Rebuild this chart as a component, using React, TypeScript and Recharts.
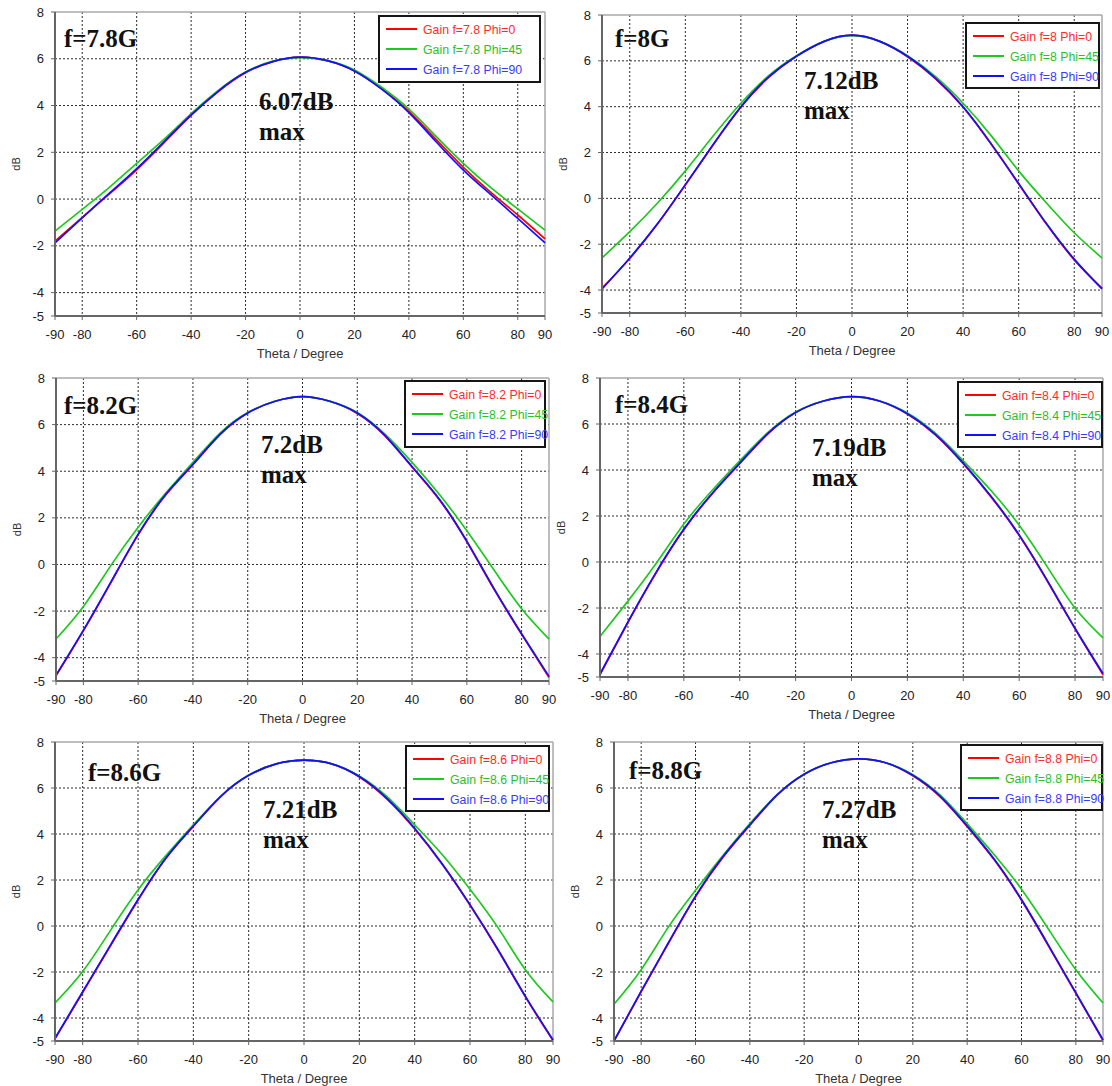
import { CartesianGrid, Line, LineChart, ReferenceLine, XAxis, YAxis } from 'recharts';

// theta sweep shared by every cut
const thetaDeg = [-90, -80, -70, -60, -50, -40, -30, -20, -10, 0, 10, 20, 30, 40, 50, 60, 70, 80, 90];

const xTicks = [-90, -80, -60, -40, -20, 0, 20, 40, 60, 80, 90];
const yTicks = [-5, -4, -2, 0, 2, 4, 6, 8];
const gridX = [-80, -60, -40, -20, 0, 20, 40, 60, 80];
const gridY = [-4, -2, 0, 2, 4, 6];

const freqGHz = ['7.8', '8', '8.2', '8.4', '8.6', '8.8'];
const freqTags = ['f=7.8G', 'f=8G', 'f=8.2G', 'f=8.4G', 'f=8.6G', 'f=8.8G'];
const peakGain = ['6.07dB', '7.12dB', '7.2dB', '7.19dB', '7.21dB', '7.27dB'];
const phiAngles = [0, 45, 90];

// gain (dB)
const gain78Phi0 = [-1.8, -0.78, 0.22, 1.25, 2.4, 3.58, 4.6, 5.4, 5.88, 6.07, 5.92, 5.48, 4.72, 3.75, 2.55, 1.36, 0.3, -0.68, -1.7];
const gain78Phi45 = [-1.37, -0.44, 0.5, 1.53, 2.55, 3.65, 4.65, 5.43, 5.9, 6.05, 5.92, 5.52, 4.78, 3.85, 2.68, 1.53, 0.5, -0.42, -1.33];
const gain78Phi90 = [-1.87, -0.8, 0.25, 1.3, 2.45, 3.6, 4.62, 5.42, 5.88, 6.07, 5.92, 5.48, 4.7, 3.7, 2.45, 1.24, 0.2, -0.83, -1.87];

const gain80Phi0 = [-3.92, -2.62, -1.12, 0.58, 2.33, 3.98, 5.28, 6.2, 6.85, 7.12, 6.85, 6.18, 5.23, 3.98, 2.38, 0.63, -1.12, -2.68, -3.92];
const gain80Phi45 = [-2.6, -1.45, -0.2, 1.2, 2.72, 4.15, 5.35, 6.22, 6.85, 7.1, 6.85, 6.22, 5.32, 4.15, 2.75, 1.2, -0.2, -1.5, -2.6];
const gain80Phi90 = [-3.95, -2.6, -1.1, 0.6, 2.35, 4.0, 5.3, 6.2, 6.85, 7.12, 6.85, 6.2, 5.25, 4.0, 2.4, 0.65, -1.1, -2.65, -3.95];

const gain82Phi0 = [-4.78, -2.85, -0.79, 1.27, 2.97, 4.28, 5.58, 6.5, 7.0, 7.2, 7.0, 6.48, 5.53, 4.18, 2.77, 0.97, -1.08, -3.0, -4.85];
const gain82Phi45 = [-3.2, -1.8, -0.05, 1.6, 3.05, 4.38, 5.65, 6.52, 7.0, 7.2, 7.0, 6.52, 5.6, 4.38, 3.0, 1.45, -0.25, -1.9, -3.2];
const gain82Phi90 = [-4.75, -2.82, -0.76, 1.3, 3.0, 4.3, 5.6, 6.5, 7.0, 7.2, 7.0, 6.5, 5.55, 4.2, 2.8, 1.0, -1.05, -2.97, -4.8];

const gain84Phi0 = [-4.9, -2.63, -0.49, 1.4, 2.94, 4.28, 5.56, 6.5, 7.0, 7.19, 7.0, 6.43, 5.53, 4.27, 2.82, 1.15, -0.82, -2.91, -4.9];
const gain84Phi45 = [-3.24, -1.7, -0.08, 1.65, 3.1, 4.4, 5.62, 6.52, 7.0, 7.18, 7.0, 6.48, 5.6, 4.4, 3.1, 1.6, -0.2, -2.0, -3.3];
const gain84Phi90 = [-4.87, -2.6, -0.46, 1.43, 2.97, 4.3, 5.58, 6.5, 7.0, 7.19, 7.0, 6.45, 5.55, 4.3, 2.85, 1.18, -0.79, -2.88, -4.85];

const gain86Phi0 = [-4.91, -2.89, -0.87, 1.12, 2.92, 4.33, 5.63, 6.55, 7.05, 7.21, 7.05, 6.48, 5.52, 4.22, 2.67, 0.9, -1.03, -3.08, -4.98];
const gain86Phi45 = [-3.35, -1.98, -0.2, 1.57, 3.05, 4.4, 5.65, 6.55, 7.05, 7.2, 7.05, 6.52, 5.62, 4.4, 3.1, 1.6, -0.05, -1.9, -3.3];
const gain86Phi90 = [-4.88, -2.86, -0.84, 1.15, 2.95, 4.35, 5.65, 6.55, 7.05, 7.21, 7.05, 6.5, 5.55, 4.25, 2.7, 0.93, -1.0, -3.05, -4.95];

const gain88Phi0 = [-5.0, -2.86, -0.76, 1.27, 2.97, 4.38, 5.68, 6.6, 7.1, 7.27, 7.1, 6.53, 5.62, 4.32, 2.87, 1.12, -0.88, -2.93, -4.98];
const gain88Phi45 = [-3.4, -1.9, -0.05, 1.55, 3.05, 4.45, 5.7, 6.6, 7.1, 7.26, 7.1, 6.58, 5.7, 4.45, 3.1, 1.6, -0.15, -1.9, -3.35];
const gain88Phi90 = [-5.0, -2.83, -0.73, 1.3, 3.0, 4.4, 5.7, 6.6, 7.1, 7.27, 7.1, 6.55, 5.65, 4.35, 2.9, 1.15, -0.85, -2.9, -4.95];

const panelGains = [
  [gain78Phi0, gain78Phi45, gain78Phi90],
  [gain80Phi0, gain80Phi45, gain80Phi90],
  [gain82Phi0, gain82Phi45, gain82Phi90],
  [gain84Phi0, gain84Phi45, gain84Phi90],
  [gain86Phi0, gain86Phi45, gain86Phi90],
  [gain88Phi0, gain88Phi45, gain88Phi90],
];

const lineColors = ['#ff0000', '#1ec81e', '#1010ff'];
const legendTextColors = ['#ff2a2a', '#2ac02a', '#3a3aff'];

// plot rectangles and overlay spots, page coordinates
const panelBoxes = [
  { left: 55, right: 545, top: 12, bottom: 316, tag: [64, 47], peak: [259, 110], legend: [379, 16, 161, 66] },
  { left: 602, right: 1102, top: 15, bottom: 313, tag: [615, 47], peak: [804, 89], legend: [966, 23, 133, 65] },
  { left: 56, right: 549, top: 378, bottom: 681, tag: [64, 414], peak: [261, 453], legend: [405, 381, 140, 66] },
  { left: 600, right: 1103, top: 378, bottom: 677, tag: [615, 413], peak: [812, 456], legend: [958, 382, 144, 65] },
  { left: 55, right: 553, top: 742, bottom: 1041, tag: [88, 781], peak: [263, 818], legend: [406, 746, 143, 65] },
  { left: 614, right: 1103, top: 742, bottom: 1041, tag: [629, 779], peak: [822, 818], legend: [961, 745, 141, 65] },
];

const sansFont = "'Liberation Sans', Arial, sans-serif";
const serifFont = "'Liberation Serif', 'Times New Roman', serif";

const Y_AXIS_W = 45;
const M_TOP = 8;
const M_RIGHT = 14;
const X_AXIS_H = 46;

function DbLabel({ viewBox }: any) {
  const x = viewBox.x + 6;
  const y = viewBox.y + viewBox.height / 2;
  return (
    <text
      x={x}
      y={y}
      transform={`rotate(-90 ${x} ${y})`}
      textAnchor="middle"
      dominantBaseline="central"
      fontSize={11}
      fontFamily={sansFont}
      fill="#333"
    >
      dB
    </text>
  );
}

function GainPanel({ index }: { index: number }) {
  const box = panelBoxes[index];
  const series = panelGains[index];
  const rows = thetaDeg.map((theta, i) => ({
    theta,
    phi0: series[0][i],
    phi45: series[1][i],
    phi90: series[2][i],
  }));
  const width = Y_AXIS_W + (box.right - box.left) + M_RIGHT;
  const height = M_TOP + (box.bottom - box.top) + X_AXIS_H;

  return (
    <div style={{ position: 'absolute', left: box.left - Y_AXIS_W, top: box.top - M_TOP }}>
      <LineChart width={width} height={height} data={rows} margin={{ top: M_TOP, right: M_RIGHT, bottom: 0, left: 0 }}>
        <CartesianGrid stroke="#2a2a2a" strokeDasharray="2 2" horizontalValues={gridY} verticalValues={gridX} />
        <XAxis
          type="number"
          dataKey="theta"
          domain={[-90, 90]}
          ticks={xTicks}
          interval={0}
          height={X_AXIS_H}
          axisLine={{ stroke: '#666', strokeWidth: 2 }}
          tickLine={{ stroke: '#666' }}
          tickSize={4}
          tickMargin={10}
          tick={{ fill: '#222', fontSize: 13, fontFamily: sansFont }}
          label={{ value: 'Theta / Degree', position: 'insideBottom', offset: 4, fill: '#333', fontSize: 13, fontFamily: sansFont }}
        />
        <YAxis
          type="number"
          domain={[-5, 8]}
          ticks={yTicks}
          interval={0}
          width={Y_AXIS_W}
          axisLine={{ stroke: '#666', strokeWidth: 2 }}
          tickLine={{ stroke: '#666' }}
          tickSize={4}
          tickMargin={7}
          tick={{ fill: '#222', fontSize: 13, fontFamily: sansFont }}
          label={{ content: DbLabel }}
        />
        <ReferenceLine y={8} stroke="#a8a8a8" strokeWidth={1.5} />
        <ReferenceLine x={90} stroke="#a8a8a8" strokeWidth={1.5} />
        {phiAngles.map((phi, k) => (
          <Line
            key={phi}
            type="natural"
            dataKey={`phi${phi}`}
            stroke={lineColors[k]}
            strokeWidth={1.7}
            dot={false}
            isAnimationActive={false}
          />
        ))}
      </LineChart>
    </div>
  );
}

function Overlay() {
  return (
    <svg width={1112} height={1086} style={{ position: 'absolute', left: 0, top: 0, pointerEvents: 'none' }}>
      {panelBoxes.map((box, i) => {
        const [lx, ly, lw, lh] = box.legend;
        return (
          <g key={i}>
            <text x={box.tag[0]} y={box.tag[1]} fontFamily={serifFont} fontWeight="bold" fontSize={25} fill="#111">
              {freqTags[i]}
            </text>
            <text x={box.peak[0]} y={box.peak[1]} fontFamily={serifFont} fontWeight="bold" fontSize={25} fill="#111">
              {peakGain[i]}
            </text>
            <text x={box.peak[0]} y={box.peak[1] + 30} fontFamily={serifFont} fontWeight="bold" fontSize={25} fill="#111">
              max
            </text>
            <rect x={lx} y={ly} width={lw} height={lh} fill="#fff" stroke="#151515" strokeWidth={2} />
            {phiAngles.map((phi, k) => {
              const rowY = ly + 13 + k * 20;
              return (
                <g key={phi}>
                  <line x1={lx + 7} x2={lx + 38} y1={rowY} y2={rowY} stroke={lineColors[k]} strokeWidth={2} />
                  <text x={lx + 44} y={rowY + 4.5} fontFamily={sansFont} fontSize={12.3} fill={legendTextColors[k]}>
                    {`Gain f=${freqGHz[i]} Phi=${phi}`}
                  </text>
                </g>
              );
            })}
          </g>
        );
      })}
    </svg>
  );
}

export default function App() {
  return (
    <div style={{ position: 'absolute', left: 0, top: 0, width: 1112, height: 1086, background: '#fff', overflow: 'hidden' }}>
      {panelBoxes.map((_, i) => (
        <GainPanel key={i} index={i} />
      ))}
      <Overlay />
    </div>
  );
}
